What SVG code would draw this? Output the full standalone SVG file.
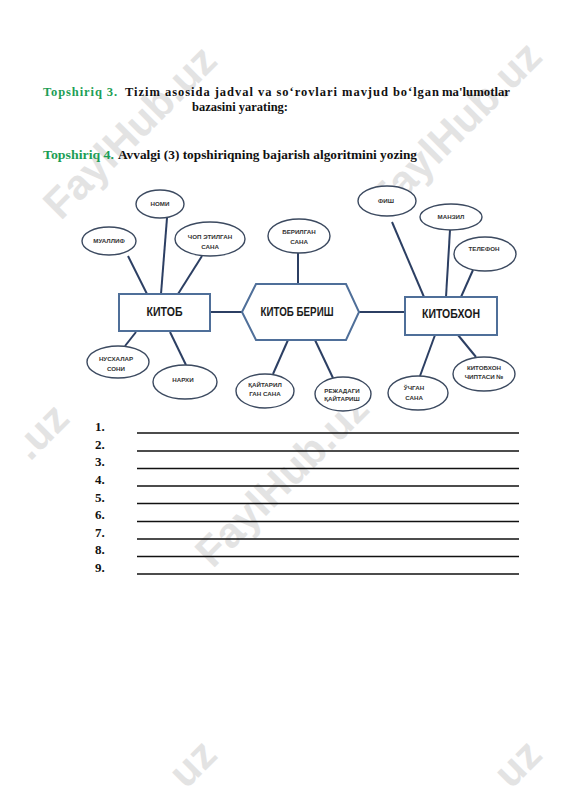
<svg xmlns="http://www.w3.org/2000/svg" width="566" height="800" viewBox="0 0 566 800">
<style>
.wm{font-family:"Liberation Sans",Arial,sans-serif;font-weight:bold;font-size:42px;fill:#e3e3e3;text-anchor:middle}
.wms{font-family:"Liberation Sans",Arial,sans-serif;font-weight:bold;font-size:42px;fill:#e3e3e3}
.hd{font-family:"Liberation Serif","Times New Roman",serif;font-weight:bold;font-size:12.5px;fill:#111}
.hd.green{fill:#1c9e55}
.num{font-family:"Liberation Serif","Times New Roman",serif;font-weight:bold;font-size:13px;fill:#111}
.ell{fill:#fff;stroke:#3c4a60;stroke-width:1.4}
.box{fill:#fff;stroke:#4f6f99;stroke-width:2}
.lbl{font-family:"Liberation Sans",Arial,sans-serif;font-weight:bold;font-size:6.2px;fill:#333;text-anchor:middle}
.big{font-family:"Liberation Sans",Arial,sans-serif;font-weight:bold;font-size:12px;fill:#1a1a1a;text-anchor:middle}
.conn line{stroke:#2c3f63;stroke-width:2}
.rule{stroke:#111;stroke-width:1.5}
</style>
<rect width="566" height="800" fill="#fff"/>
<g id="watermarks">
<text class="wm" transform="translate(140,142) rotate(-45)">FaylHub.uz</text>
<text class="wm" transform="translate(465,138) rotate(-45)">FaylHub.uz</text>
<text class="wm" transform="translate(292,490) rotate(-45)">FaylHub.uz</text>
<text class="wms" transform="translate(30,462) rotate(-45)">.uz</text>
<text class="wms" transform="translate(186,790) rotate(-45)">uz</text>
<text class="wms" transform="translate(511,790) rotate(-45)">uz</text>
</g>
<g id="heading">
<text class="hd green" x="43" y="96" textLength="74" lengthAdjust="spacing">Topshiriq  3.</text>
<text class="hd" x="125" y="96" textLength="314" lengthAdjust="spacing">Tizim asosida jadval va so‘rovlari mavjud bo‘lgan</text>
<text class="hd" x="442" y="96" textLength="68" lengthAdjust="spacingAndGlyphs">ma'lumotlar</text>
<text class="hd" x="192" y="111" textLength="96" lengthAdjust="spacingAndGlyphs">bazasini yarating:</text>
<text class="hd green" x="43" y="159" textLength="71" lengthAdjust="spacingAndGlyphs">Topshiriq 4.</text>
<text class="hd" x="118" y="159" textLength="299" lengthAdjust="spacingAndGlyphs">Avvalgi (3) topshiriqning bajarish algoritmini yozing</text>
</g>
<g id="connectors" class="conn">
<line x1="210" y1="312" x2="242" y2="312"/>
<line x1="359" y1="312" x2="405" y2="312"/>
<line x1="128" y1="256" x2="147" y2="294"/>
<line x1="167" y1="218" x2="161" y2="294"/>
<line x1="202" y1="256" x2="178" y2="294"/>
<line x1="136" y1="332" x2="125" y2="346"/>
<line x1="170" y1="332" x2="186" y2="365"/>
<line x1="298" y1="253" x2="298" y2="284"/>
<line x1="288" y1="340" x2="273" y2="374"/>
<line x1="315" y1="340" x2="333" y2="378"/>
<line x1="392" y1="222" x2="424" y2="297"/>
<line x1="450" y1="230" x2="446" y2="297"/>
<line x1="473" y1="270" x2="461" y2="297"/>
<line x1="435" y1="335" x2="420" y2="376"/>
<line x1="458" y1="335" x2="476" y2="357"/>
</g>
<g id="kitob"><rect class="box" x="119" y="294" width="91" height="37"/><text class="big" x="164.5" y="316" textLength="36" lengthAdjust="spacingAndGlyphs">КИТОБ</text></g>
<g id="kitob-berish"><polygon class="box" points="242,312 256,284 346,284 359,312 346,340 256,340"/><text class="big" x="297" y="316" textLength="73" lengthAdjust="spacingAndGlyphs">КИТОБ БЕРИШ</text></g>
<g id="kitobxon"><rect class="box" x="405" y="297" width="92" height="38"/><text class="big" x="451" y="318" textLength="58" lengthAdjust="spacingAndGlyphs">КИТОБХОН</text></g>
<g id="nomi"><ellipse class="ell" cx="160" cy="204" rx="24" ry="14"/><text class="lbl" x="160" y="206">НОМИ</text></g>
<g id="muallif"><ellipse class="ell" cx="109" cy="241" rx="27" ry="14"/><text class="lbl" x="109" y="243">МУАЛЛИФ</text></g>
<g id="chop"><ellipse class="ell" cx="210" cy="239" rx="35" ry="17"/><text class="lbl" x="210" y="239">ЧОП ЭТИЛГАН</text><text class="lbl" x="210" y="249">САНА</text></g>
<g id="berilgan"><ellipse class="ell" cx="299" cy="236" rx="31" ry="17"/><text class="lbl" x="299" y="234">БЕРИЛГАН</text><text class="lbl" x="299" y="243.5">САНА</text></g>
<g id="fish"><ellipse class="ell" cx="387" cy="201" rx="29" ry="15"/><text class="lbl" x="386" y="203">ФИШ</text></g>
<g id="manzil"><ellipse class="ell" cx="451" cy="217" rx="31" ry="13"/><text class="lbl" x="451" y="219">МАНЗИЛ</text></g>
<g id="telefon"><ellipse class="ell" cx="485" cy="254" rx="31" ry="17"/><text class="lbl" x="484" y="251">ТЕЛЕФОН</text></g>
<g id="nusxalar"><ellipse class="ell" cx="118" cy="362" rx="31" ry="16"/><text class="lbl" x="116" y="361">НУСХАЛАР</text><text class="lbl" x="116" y="370.5">СОНИ</text></g>
<g id="narxi"><ellipse class="ell" cx="185" cy="382" rx="32" ry="17"/><text class="lbl" x="183" y="382">НАРХИ</text></g>
<g id="qaytarilgan"><ellipse class="ell" cx="265" cy="391" rx="29" ry="17"/><text class="lbl" x="265" y="386.5">ҚАЙТАРИЛ</text><text class="lbl" x="265" y="396">ГАН САНА</text></g>
<g id="rejadagi"><ellipse class="ell" cx="343" cy="394" rx="28" ry="17"/><text class="lbl" x="342" y="393">РЕЖАДАГИ</text><text class="lbl" x="342" y="401">ҚАЙТАРИШ</text></g>
<g id="uqgan"><ellipse class="ell" cx="418" cy="393" rx="30" ry="17"/><text class="lbl" x="414" y="390">ЎЧГАН</text><text class="lbl" x="414" y="399.5">САНА</text></g>
<g id="chiptasi"><ellipse class="ell" cx="484" cy="374" rx="31" ry="17"/><text class="lbl" x="484" y="370">КИТОБХОН</text><text class="lbl" x="484" y="379">ЧИПТАСИ №</text></g>
<g id="list">
<text class="num" x="95" y="431">1.</text><line class="rule" x1="137" y1="433" x2="519" y2="433"/>
<text class="num" x="95" y="448.5">2.</text><line class="rule" x1="137" y1="451" x2="519" y2="451" stroke-width="2"/>
<text class="num" x="95" y="466">3.</text><line class="rule" x1="137" y1="468.5" x2="519" y2="468.5"/>
<text class="num" x="95" y="484">4.</text><line class="rule" x1="137" y1="486" x2="519" y2="486"/>
<text class="num" x="95" y="501.5">5.</text><line class="rule" x1="137" y1="503.5" x2="519" y2="503.5"/>
<text class="num" x="95" y="519">6.</text><line class="rule" x1="137" y1="521.5" x2="519" y2="521.5" stroke-width="2"/>
<text class="num" x="95" y="536.5">7.</text><line class="rule" x1="137" y1="539" x2="519" y2="539"/>
<text class="num" x="95" y="554">8.</text><line class="rule" x1="137" y1="556.5" x2="519" y2="556.5"/>
<text class="num" x="95" y="572">9.</text><line class="rule" x1="137" y1="574" x2="519" y2="574" stroke-width="2"/>
</g>
</svg>
